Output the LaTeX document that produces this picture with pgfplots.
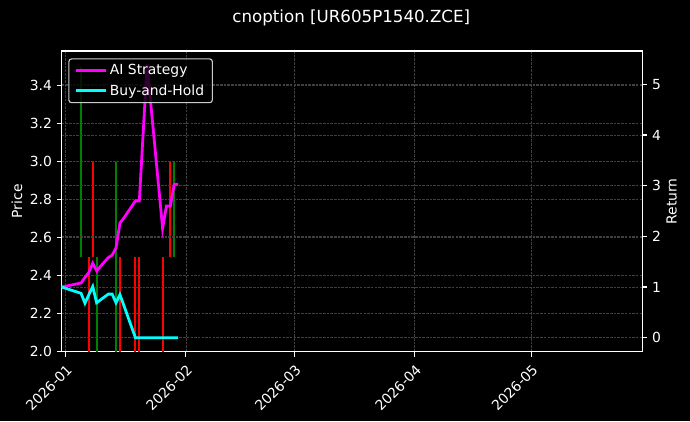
\documentclass[border=0pt]{standalone}
\usepackage{fontspec}
\setmainfont{DejaVu Sans}
\usepackage{pgfplots}
\usepackage{pgfplotstable}
\pgfplotsset{compat=1.18}

\definecolor{gridc}{HTML}{404040}
\definecolor{sigred}{HTML}{FF0000}
\definecolor{siggreen}{HTML}{008000}
\definecolor{aimag}{HTML}{FF00FF}
\definecolor{bhcyan}{HTML}{00FFFF}
\definecolor{legedge}{HTML}{CCCCCC}

% x = days since 2026-01-01
\pgfplotstableread{
day   ai    bh
-1    1.00  1.00
4     1.08  0.875
5     1.19  0.68
6     1.29  0.85
7     1.47  1.01
8     1.32  0.69
11    1.58  0.86
12    1.63  0.86
13    1.77  0.69
14    2.26  0.85
15    2.36  0.64
18    2.70  0.00
19    2.70  0.00
20    4.05  0.00
21    5.39  0.00
22    4.58  0.00
25    2.16  0.00
26    2.60  0.00
27    2.60  0.00
28    3.03  0.00
29    3.03  0.00
}\returns

\pgfplotsset{
  base/.style={
    scale only axis, width=418pt, height=216.5pt,
    xmin=-1, xmax=148.6,
    tick style={white, line width=0.8pt}, major tick length=3.5pt, tick align=outside,
    ticklabel style={white, font=\fontsize{10}{12}\selectfont},
    /pgf/number format/assume math mode=true,
    grid style={gridc, line width=0.5pt, dash pattern=on 1.85pt off 0.8pt},
    axis line style={white, line width=0.8pt},
  },
}

\begin{document}
\begin{tikzpicture}
\fill[black] (-44.42pt,-49.9pt) rectangle (452.38pt,253.22pt);
\useasboundingbox (-44.42pt,-49.9pt) rectangle (452.38pt,253.22pt);

\begin{axis}[base,
    axis background/.style={fill=black},
    ymin=2.0, ymax=3.583,
    ytick={2.0,2.2,2.4,2.6,2.8,3.0,3.2,3.4},
    yticklabel style={/pgf/number format/.cd, fixed, fixed zerofill, precision=1},
    xtick={0,31,59,90,120},
    xticklabels={2026-01,2026-02,2026-03,2026-04,2026-05},
    xticklabel style={rotate=45, anchor=north east},
    xtick pos=bottom, ytick pos=left,
    xmajorgrids, ymajorgrids,
    ylabel={Price},
    every axis y label/.style={at={(rel axis cs:0,0.5)}, rotate=90, anchor=center,
        yshift=32.2pt, text=white, font=\fontsize{10}{12}\selectfont},
]
\addplot[siggreen, line width=1.5pt, forget plot] coordinates {(4,2.5) (4,3.5)};
\addplot[sigred,   line width=1.5pt, forget plot] coordinates {(6,2.0) (6,2.5)};
\addplot[sigred,   line width=1.5pt, forget plot] coordinates {(7,2.5) (7,3.0)};
\addplot[siggreen, line width=1.5pt, forget plot] coordinates {(8,2.0) (8,2.5)};
\addplot[siggreen, line width=1.5pt, forget plot] coordinates {(13,2.0) (13,2.5)};
\addplot[siggreen, line width=1.5pt, forget plot] coordinates {(13,2.5) (13,3.0)};
\addplot[sigred,   line width=1.5pt, forget plot] coordinates {(14,2.0) (14,2.5)};
\addplot[sigred,   line width=1.5pt, forget plot] coordinates {(18,2.0) (18,2.5)};
\addplot[sigred,   line width=1.5pt, forget plot] coordinates {(19,2.0) (19,2.5)};
\addplot[sigred,   line width=1.5pt, forget plot] coordinates {(25,2.0) (25,2.5)};
\addplot[sigred,   line width=1.5pt, forget plot] coordinates {(27,2.5) (27,3.0)};
\addplot[siggreen, line width=1.5pt, forget plot] coordinates {(28,2.5) (28,3.0)};
\end{axis}

\begin{axis}[base,
    ymin=-0.276, ymax=5.657,
    ytick={0,1,2,3,4,5},
    axis x line=none, axis y line*=right,
    ymajorgrids,
    ylabel={Return},
    every axis y label/.style={at={(rel axis cs:1,0.5)}, rotate=90, anchor=center,
        yshift=-21.2pt, text=white, font=\fontsize{10}{12}\selectfont},
    legend cell align=left,
    legend image code/.code={\draw[#1] (0pt,0pt) -- (21.6pt,0pt);},
    legend style={at={(0,1)}, anchor=north west, xshift=4.75pt, yshift=-5.3pt,
        fill=black, fill opacity=0.8, text opacity=1, draw=legedge, line width=0.8pt,
        rounded corners=2pt, text=white, font=\fontsize{10}{12}\selectfont,
        row sep=1.5pt, inner xsep=4pt, inner ysep=2pt},
]
\addplot[aimag, line width=2pt] table[x=day, y=ai] {\returns};
\addlegendentry{AI Strategy}
\addplot[bhcyan, line width=2pt] table[x=day, y=bh] {\returns};
\addlegendentry{Buy-and-Hold}
\end{axis}

\node[white, font=\fontsize{12}{14}\selectfont] at (208.5pt,240.2pt) {cnoption [UR605P1540.ZCE]};
\end{tikzpicture}
\end{document}
